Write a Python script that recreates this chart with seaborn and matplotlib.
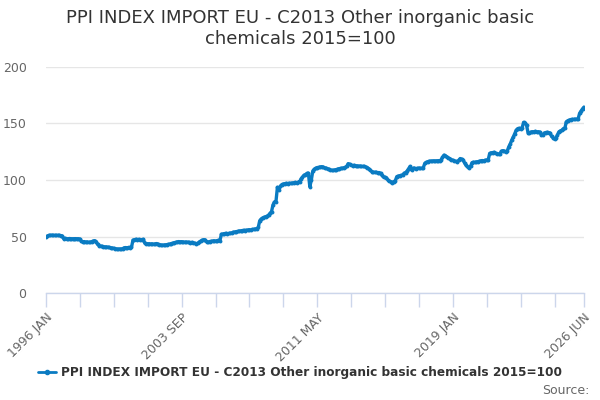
import matplotlib
matplotlib.use("Agg")
import matplotlib.pyplot as plt
import seaborn as sns
import pandas as pd
import numpy as np
from matplotlib.lines import Line2D

title = "PPI INDEX IMPORT EU - C2013 Other inorganic basic\nchemicals 2015=100"
series_name = "PPI INDEX IMPORT EU - C2013 Other inorganic basic chemicals 2015=100"
tick_labels = ["1996 JAN", "2003 SEP", "2011 MAY", "2019 JAN", "2026 JUN"]
label_positions = [0, 92, 184, 276, 365]

v1996 = [49.2, 50.5, 51, 51, 51.2, 51, 51, 51, 51, 51, 50.8, 50.5]
v1997 = [48, 48.3, 48, 48, 48.2, 48, 48, 48, 48.1, 48, 48, 47.8]
v1998 = [45.6, 45.3, 45.5, 45, 45.2, 44.8, 45, 45.4, 46, 46.3, 45.5, 43]
v1999 = [42, 41.5, 41.2, 41, 40.8, 40.8, 40.5, 40.3, 40, 39.8, 39.5, 39.2]
v2000 = [39, 38.8, 39, 38.9, 39.2, 40, 40.2, 40, 40.3, 40, 40.5, 46.8]
v2001 = [47.2, 47.5, 47.3, 47.4, 47, 47.2, 47.5, 44.2, 43.8, 43.5, 43.6, 43.4]
v2002 = [43.5, 43.2, 43.4, 43.8, 43.2, 42.8, 42.5, 42.3, 42.5, 42.6, 42.8, 43]
v2003 = [43.3, 43.8, 44.2, 44.5, 44.8, 45.2, 45.5, 45.3, 45.4, 45.2, 45, 45.1]
v2004 = [45, 44.8, 44.6, 44.8, 44.5, 44, 43.5, 44, 45.2, 46, 46.8, 47.2]
v2005 = [47, 45.2, 45, 45.5, 45.8, 46, 46.2, 46, 46.3, 46.5, 46.4, 52]
v2006 = [52.3, 52.6, 52.8, 52.5, 52.7, 53, 53.2, 53.8, 54, 54.3, 54.5, 54.8]
v2007 = [55, 55.2, 55.5, 55.3, 55.6, 55.8, 56, 55.8, 56.2, 56.4, 56.6, 57]
v2008 = [58, 64, 65.5, 66.5, 67, 67.5, 68, 69, 70.5, 72, 78, 80.5]
v2009 = [80.8, 93.5, 91, 94.5, 96, 96.5, 96.8, 97, 96.8, 97.2, 97, 97.3]
v2010 = [97.5, 97.8, 97.5, 98, 98.2, 101, 102.5, 104.2, 104.8, 105.8, 106, 94]
v2011 = [100, 108, 109.5, 110.5, 111, 111.2, 111.5, 111.8, 111.5, 110.8, 110.5, 110]
v2012 = [109.5, 109, 108.5, 108.5, 109, 109.2, 109.8, 110, 110.4, 110.2, 110.8, 111.2]
v2013 = [112, 114.5, 114, 113.2, 112.8, 113, 112.6, 112.5, 112.2, 112.4, 112, 112]
v2014 = [112, 111.5, 111, 110, 108.8, 107.5, 107, 106.8, 106.8, 106.5, 106.6, 106]
v2015 = [104, 102.5, 102.4, 102, 100, 99, 98.5, 97.6, 98.5, 99.5, 103, 103.5]
v2016 = [103.8, 104.2, 104.4, 106, 106.5, 108, 110, 112, 109, 110.3, 110.5, 110]
v2017 = [110.3, 110.6, 110.2, 110.4, 111, 114.8, 115.5, 116.2, 116.6, 116.8, 116.7, 117]
v2018 = [116.8, 117, 117, 117.2, 117.5, 120, 122, 121.5, 120.5, 119.5, 119, 118]
v2019 = [117.5, 117, 116.5, 116, 117.5, 119, 118.5, 117.5, 115, 113, 111.5, 111]
v2020 = [112, 115.3, 115.8, 115.5, 116, 116.2, 116.5, 117, 117.2, 117, 117.5, 117.6]
v2021 = [117.8, 123.5, 124, 124.3, 124.5, 123.5, 123, 123, 123.2, 125.5, 126, 125.5]
v2022 = [125, 126, 129.5, 132, 135.4, 138, 141, 144, 145.5, 145.7, 145.5, 146]
v2023 = [151, 150.5, 148.7, 142, 141.3, 142.5, 142.7, 142.7, 143, 142.5, 142.7, 142.5]
v2024 = [140, 139.8, 141.5, 142, 142.2, 142, 141.5, 138.5, 137.5, 136.2, 137, 140]
v2025 = [142.7, 143.5, 144, 145.5, 145.7, 151.5, 152.5, 153, 153.5, 153.7, 153.6, 153.8]
v2026 = [153.7, 154, 159, 161, 163, 164.5]

values = (v1996 + v1997 + v1998 + v1999 + v2000 + v2001 + v2002 + v2003 + v2004 + v2005
          + v2006 + v2007 + v2008 + v2009 + v2010 + v2011 + v2012 + v2013 + v2014 + v2015
          + v2016 + v2017 + v2018 + v2019 + v2020 + v2021 + v2022 + v2023 + v2024 + v2025 + v2026)

df = pd.DataFrame({"idx": np.arange(len(values)), "value": values})

sns.set_style("white")
plt.rcParams['font.family'] = ['DejaVu Sans']

color = "#0a7bc2"
fig = plt.figure(figsize=(6, 4), dpi=100)
ax = fig.add_axes([46/600, 107/400, (584-46)/600, (293-67)/400])

sns.lineplot(data=df, x="idx", y="value", ax=ax, color=color, linewidth=2.4,
             marker="o", markersize=2.8, markeredgewidth=0, legend=False)

ax.set_xlim(0, len(values) - 1)
ax.set_ylim(0, 200)
ax.set_yticks([0, 50, 100, 150, 200])
ax.yaxis.grid(True, color="#e6e6e6", linewidth=1)
ax.set_axisbelow(True)
ax.set_xlabel("")
ax.set_ylabel("")

minor = list(range(0, len(values), 23)) + [len(values) - 1]
ax.set_xticks(minor, minor=True)
ax.set_xticks(label_positions)
ax.set_xticklabels(tick_labels, rotation=45, ha="right", rotation_mode="anchor",
                   fontsize=9, color="#666666")
ax.tick_params(axis="x", which="both", bottom=True, length=10, color="#ccd6eb",
               width=1, direction="out")
ax.tick_params(axis="x", which="major", pad=3)
ax.tick_params(axis="y", length=0, labelsize=9, labelcolor="#666666", pad=14)

for s in ["top", "right", "left"]:
    ax.spines[s].set_visible(False)
ax.spines["bottom"].set_color("#ccd6eb")
ax.spines["bottom"].set_linewidth(1)

fig.suptitle(title, y=0.978, fontsize=13, color="#333333", linespacing=1.2)

handle = Line2D([], [], color=color, linewidth=2, marker="o", markersize=3)
fig.legend([handle], [series_name], loc="center", bbox_to_anchor=(0.5, 0.068),
           frameon=False, prop={"size": 8.7, "weight": "bold"}, labelcolor="#333333",
           handlelength=1.5, handletextpad=0.4)
fig.text(0.982, 0.025, "Source:", ha="right", va="center", fontsize=9, color="#666666")

fig.savefig("out.png", dpi=100)
